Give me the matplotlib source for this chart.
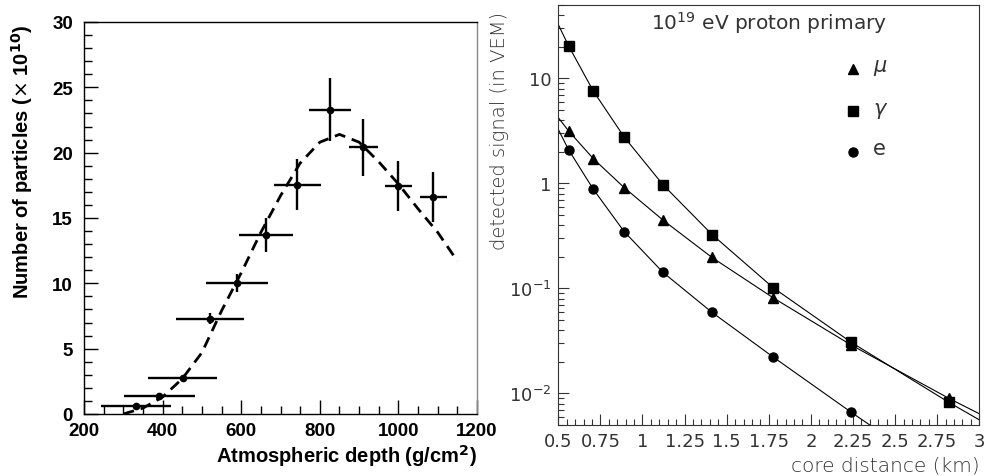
import matplotlib
matplotlib.use("Agg")
from matplotlib import pyplot as plt
from matplotlib.ticker import MultipleLocator, LogLocator, NullFormatter, FixedLocator

# left panel: longitudinal profile
depth = [332, 392, 451, 520, 590, 663, 743, 826, 911, 1000, 1089]
depth_err = [90, 90, 88, 87, 79, 68, 60, 53, 37, 34, 35]
particles = [0.59, 1.4, 2.75, 7.3, 10.03, 13.7, 17.55, 23.3, 20.4, 17.47, 16.6]
particles_err = [0.2, 0.2, 0.2, 0.4, 0.7, 1.3, 1.95, 2.4, 2.2, 1.9, 1.9]

fit_depth = [300, 350, 400, 450, 500, 550, 600, 650, 700, 750, 800, 850, 900, 950, 1000, 1050, 1100, 1150]
fit_particles = [0.0, 0.45, 1.3, 2.7, 4.7, 7.9, 10.8, 13.9, 16.7, 19.2, 20.8, 21.4, 20.8, 19.3, 17.6, 15.7, 13.9, 11.7]

# right panel: lateral distribution
core_dist = [0.562, 0.708, 0.891, 1.122, 1.413, 1.778, 2.239, 2.818]
signal_mu = [3.15, 1.72, 0.913, 0.447, 0.197, 0.081, 0.0289, 0.0090]
signal_gamma = [20.3, 7.58, 2.77, 0.97, 0.326, 0.101, 0.0307, 0.00824]
signal_e = [2.08, 0.88, 0.348, 0.142, 0.0591, 0.0221, 0.00662]

# fitted line ends (where the curves meet the frame)
mu_start, mu_end = 4.23, 0.0064
gamma_start, gamma_end = 32.6, 0.0056
e_start, e_end_x, e_end = 3.27, 2.35, 0.005

fig = plt.figure(figsize=(9.86, 4.77), dpi=100)

# ---------------- left ----------------
ax1 = fig.add_axes([0.0852, 0.13, 0.3986, 0.8218])
bold = {"family": "Liberation Sans", "weight": "bold"}
ax1.errorbar(depth, particles, xerr=depth_err, yerr=particles_err, fmt="o", color="black",
             markersize=4.5, elinewidth=1.7, capsize=0)
ax1.plot(fit_depth, fit_particles, color="black", lw=2.0, ls=(0, (4, 2.5)))
ax1.set_xlim(200, 1200)
ax1.set_ylim(0, 30)
ax1.xaxis.set_major_locator(MultipleLocator(200))
ax1.xaxis.set_minor_locator(MultipleLocator(50))
ax1.yaxis.set_major_locator(MultipleLocator(5))
ax1.yaxis.set_minor_locator(MultipleLocator(1))
ax1.tick_params(which="both", direction="in", top=False, right=False, width=1,
                labelsize=13.5, labelfontfamily="Liberation Sans")
ax1.tick_params(which="major", length=10)
ax1.tick_params(which="minor", length=6)
ax1.tick_params(axis="y", pad=8)
ax1.tick_params(axis="x", pad=6)
fig.canvas.draw()
for lab in ax1.get_xticklabels() + ax1.get_yticklabels():
    lab.set_fontweight("bold")
ax1.set_xlabel("Atmospheric depth (g/cm$^\\mathbf{2}$)", fontdict=bold, fontsize=14.5, loc="right")
ax1.set_ylabel("Number of particles ($\\times$ 10$^{\\mathbf{10}}$)", fontdict=bold, fontsize=14.5, loc="top")
ax1.yaxis.set_label_coords(-0.125, 0.995)
ax1.xaxis.set_label_coords(1.0, -0.072)
for s in ax1.spines.values():
    s.set_linewidth(1)
ax1.spines["right"].set_color("#888888")

# ---------------- right ----------------
ax2 = fig.add_axes([0.5662, 0.1069, 0.427, 0.8805])
ax2.set_yscale("log")
ax2.plot([0.5] + core_dist + [3.0], [gamma_start] + signal_gamma + [gamma_end], color="black", lw=0.8)
ax2.plot([0.5] + core_dist + [3.0], [mu_start] + signal_mu + [mu_end], color="black", lw=0.8)
ax2.plot([0.5] + core_dist[:7] + [e_end_x], [e_start] + signal_e + [e_end], color="black", lw=0.8)
ax2.plot(core_dist, signal_gamma, "s", color="black", markersize=6.5, linestyle="none")
ax2.plot(core_dist, signal_mu, "^", color="black", markersize=6.5, linestyle="none")
ax2.plot(core_dist[:7], signal_e, "o", color="black", markersize=6.5, linestyle="none")
ax2.set_xlim(0.5, 3.0)
ax2.set_ylim(0.005, 50)
ax2.xaxis.set_minor_locator(MultipleLocator(0.05))
ax2.set_xticks([0.5, 0.75, 1, 1.25, 1.5, 1.75, 2, 2.25, 2.5, 2.75, 3])
ax2.set_xticklabels(["0.5", "0.75", "1", "1.25", "1.5", "1.75", "2", "2.25", "2.5", "2.75", "3"])
ax2.yaxis.set_major_locator(FixedLocator([0.01, 0.1, 1, 10]))
ax2.yaxis.set_minor_locator(LogLocator(base=10, subs=range(2, 10)))
ax2.yaxis.set_minor_formatter(NullFormatter())
ax2.set_yticklabels(["10$^{-2}$", "10$^{-1}$", "1", "10"])
ax2.tick_params(which="both", direction="in", top=False, right=False, width=0.8, colors="#333333",
                labelsize=13, pad=5)
ax2.tick_params(which="major", length=8)
ax2.tick_params(which="minor", length=4)
light = {"family": "DejaVu Sans", "weight": "light"}
ax2.set_xlabel("core distance (km)", fontsize=14.5, color="#333333", loc="right", fontdict=light)
ax2.set_ylabel("detected signal (in VEM)", fontsize=14, color="#333333", loc="top", fontdict=light)
ax2.xaxis.set_label_coords(1.0, -0.072)
ax2.yaxis.set_label_coords(-0.118, 0.985)
ax2.text(0.5, 0.99, "10$^{19}$ eV proton primary", transform=ax2.transAxes, ha="center", va="top",
         fontsize=14.5, color="#333333")
for s in ax2.spines.values():
    s.set_linewidth(0.8)
    s.set_color("#333333")

# legend drawn by hand as in the original
leg_y = [12.2, 4.9, 1.97]
ax2.plot([2.25], [leg_y[0]], "^", color="black", markersize=6.5)
ax2.plot([2.25], [leg_y[1]], "s", color="black", markersize=6.5)
ax2.plot([2.25], [leg_y[2]], "o", color="black", markersize=6.5)
ax2.text(2.37, leg_y[0] * 1.06, "$\\mu$", fontsize=15, color="#333333", va="center")
ax2.text(2.37, leg_y[1] * 1.02, "$\\gamma$", fontsize=15, color="#333333", va="center")
ax2.text(2.37, leg_y[2] * 1.1, "e", fontsize=15, color="#333333", va="center")

fig.savefig("out.png", dpi=100)
